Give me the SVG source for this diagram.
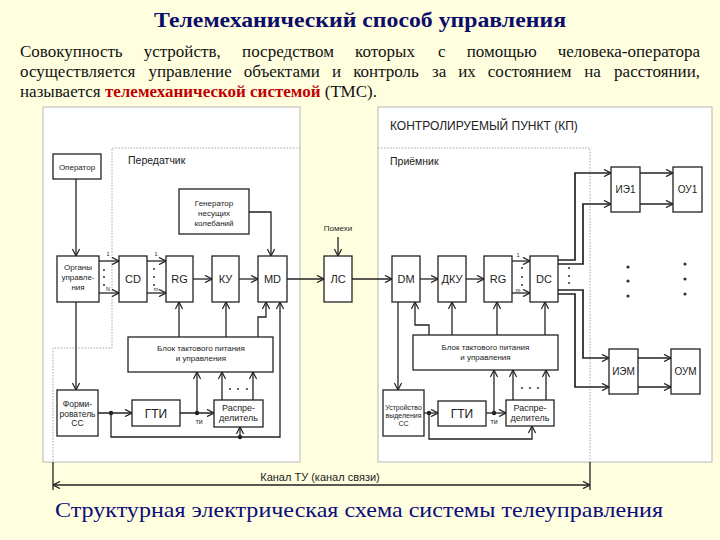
<svg xmlns="http://www.w3.org/2000/svg" width="720" height="540" viewBox="0 0 720 540">
<style>
.box{fill:#fff;stroke:#222;stroke-width:1.3}
.lbl{font-family:"Liberation Sans",Arial,sans-serif;fill:#222;text-anchor:middle}
.ln{fill:none;stroke:#222;stroke-width:1.3}
.thick{stroke-width:1.7}
.arr{marker-end:url(#ah)}
.dash{fill:none;stroke:#a8a8a8;stroke-width:1;stroke-dasharray:1.5 1.5}
.jd{fill:#222}
.sm{fill:#333}
.serif{font-family:"Liberation Serif","Times New Roman","DejaVu Serif","Noto Serif",serif}
.para{font-size:17px;fill:#111}
.panel{fill:#fff;stroke:#c4c4c4;stroke-width:1.2}
</style>
<defs>
<marker id="ah" viewBox="0 0 8 8" refX="7.6" refY="4" markerWidth="8" markerHeight="8" markerUnits="userSpaceOnUse" orient="auto-start-reverse">
<path d="M0.6,0.4 L7.6,4 L0.6,7.6" fill="none" stroke="#222" stroke-width="1.2"/>
</marker>
</defs>
<rect x="0" y="0" width="720" height="540" fill="#FFFFE0"/>

<g id="header">
<text class="serif" x="360" y="27" text-anchor="middle" font-weight="bold" font-size="22" fill="#0c0c6a" textLength="412" lengthAdjust="spacingAndGlyphs">Телемеханический способ управления</text>
<text class="serif para" y="57"><tspan x="20">Совокупность</tspan><tspan x="143.7">устройств,</tspan><tspan x="242.1">посредством</tspan><tspan x="355.1">которых</tspan><tspan x="438">с</tspan><tspan x="466.7">помощью</tspan></text>
<text class="serif para" y="57" x="700" text-anchor="end">человека-оператора</text>
<text class="serif para" y="77"><tspan x="20">осуществляется</tspan><tspan x="148.5">управление</tspan><tspan x="243.7">объектами</tspan><tspan x="332.1">и</tspan><tspan x="353.2">контроль</tspan><tspan x="432">за</tspan><tspan x="458.2">их</tspan><tspan x="487.8">состоянием</tspan><tspan x="584.2">на</tspan></text>
<text class="serif para" y="77" x="700" text-anchor="end">расстоянии,</text>
<text class="serif para" y="97" x="20">называется <tspan font-weight="bold" fill="#c00000">телемеханической системой</tspan> (ТМС).</text>
</g>

<g id="panels">
<rect class="panel" x="43" y="107" width="257" height="355"/>
<rect class="panel" x="378" y="107" width="334" height="355"/>
<path class="dash" d="M300,148 H112 V348 H53 V462"/>
<path class="dash" d="M378,148 H590 V462"/>
<text class="lbl" x="390" y="130" font-size="12" style="text-anchor:start">КОНТРОЛИРУЕМЫЙ ПУНКТ (КП)</text>
<text class="lbl" x="128" y="164" font-size="10.5" style="text-anchor:start">Передатчик</text>
<text class="lbl" x="390" y="165" font-size="10.5" style="text-anchor:start">Приёмник</text>
</g>

<g id="connectors">
<path class="ln arr" d="M76,179 V256"/>
<path class="ln arr" d="M99,261 H119"/>
<path class="ln arr" d="M99,293 H119"/>
<path class="ln arr" d="M147,261 H166"/>
<path class="ln arr" d="M147,293 H166"/>
<path class="ln arr" d="M193,279 H212"/>
<path class="ln arr" d="M239,279 H258"/>
<path class="ln arr" d="M249,212 H271 V256"/>
<path class="ln arr" d="M287,279 H324"/>
<path class="ln arr" d="M338,237 V256"/>
<path class="ln arr" d="M352,279 H392"/>
<path class="ln arr" d="M76,302 V390"/>
<path class="ln arr" d="M179,337 V302"/>
<path class="ln arr" d="M226,337 V302"/>
<path class="ln arr" d="M258,337 V317 H266 V302"/>
<path class="ln arr" d="M111,413 V437 H280 V302"/>
<path class="ln arr" d="M240,437 V427"/>
<path class="ln arr" d="M98,413 H132"/>
<path class="ln arr" d="M180,413 H214"/>
<path class="ln arr" d="M197,413 V372"/>
<path class="ln arr" d="M222,400 V372"/>
<path class="ln arr" d="M253,400 V372"/>

<path class="ln arr" d="M420,279 H438"/>
<path class="ln arr" d="M466,279 H484"/>
<path class="ln arr" d="M512,261 H530"/>
<path class="ln arr" d="M512,293 H530"/>
<path class="ln thick arr" d="M558,260 H575 V173 H611"/>
<path class="ln thick arr" d="M558,264 H583 V204 H611"/>
<path class="ln thick arr" d="M558,290 H583 V358 H609"/>
<path class="ln thick arr" d="M558,294 H575 V387 H609"/>
<path class="ln arr" d="M640,173 H673"/>
<path class="ln arr" d="M640,204 H673"/>
<path class="ln arr" d="M638,358 H671"/>
<path class="ln arr" d="M638,387 H671"/>
<path class="ln arr" d="M398,302 V390"/>
<path class="ln arr" d="M429,335 V325 H415 V302"/>
<path class="ln arr" d="M452,335 V302"/>
<path class="ln arr" d="M497,335 V302"/>
<path class="ln arr" d="M545,335 V302"/>
<path class="ln arr" d="M424,413 H438"/>
<path class="ln arr" d="M429,413 V439 H532 V426"/>
<path class="ln arr" d="M486,413 H506"/>
<path class="ln arr" d="M494,413 V370"/>
<path class="ln arr" d="M513,400 V370"/>
<path class="ln arr" d="M546,400 V370"/>

<path class="ln" d="M53,462 V490 M590,462 V490"/>
<path class="ln" d="M53,485 H590" marker-start="url(#ah)" marker-end="url(#ah)"/>

<circle class="jd" cx="111" cy="413" r="2.2"/>
<circle class="jd" cx="197" cy="413" r="2.2"/>
<circle class="jd" cx="240" cy="437" r="2.2"/>
<circle class="jd" cx="429" cy="413" r="2.2"/>
<circle class="jd" cx="494" cy="413" r="2.2"/>

<g class="sm">
<circle cx="104" cy="270" r="1"/><circle cx="104" cy="277" r="1"/><circle cx="104" cy="285" r="1"/>
<circle cx="154" cy="269" r="1"/><circle cx="154" cy="277" r="1"/><circle cx="154" cy="285" r="1"/>
<circle cx="522" cy="268" r="1"/><circle cx="522" cy="277" r="1"/><circle cx="522" cy="285" r="1"/>
<circle cx="569" cy="268" r="1"/><circle cx="569" cy="276" r="1"/><circle cx="569" cy="283" r="1"/>
<circle cx="230" cy="389" r="1"/><circle cx="238" cy="389" r="1"/><circle cx="247" cy="389" r="1"/>
<circle cx="522" cy="388" r="1"/><circle cx="530" cy="388" r="1"/><circle cx="538" cy="388" r="1"/>
<circle cx="628" cy="267" r="1.6"/><circle cx="628" cy="281" r="1.6"/><circle cx="628" cy="296" r="1.6"/>
<circle cx="685" cy="264" r="1.6"/><circle cx="685" cy="279" r="1.6"/><circle cx="685" cy="294" r="1.6"/>
</g>
<g class="lbl" font-size="5.5">
<text x="108" y="256">1</text><text x="108" y="291">N</text>
<text x="156" y="256">1</text><text x="156" y="291">m</text>
<text x="518" y="257">1</text><text x="518" y="292">m</text>
<text x="199" y="424" font-size="7">ти</text>
<text x="494" y="424" font-size="7">ти</text>
</g>
<text class="lbl" x="338" y="231" font-size="8">Помехи</text>
<text class="lbl" x="320" y="481" font-size="11">Канал ТУ (канал связи)</text>
</g>

<g id="n-operator"><rect class="box" x="53" y="154" width="48" height="25"/><text class="lbl" x="77" y="169.5" font-size="8">Оператор</text></g>
<g id="n-organy"><rect class="box" x="57" y="256" width="42" height="46"/><text class="lbl" x="78" y="270" font-size="8">Органы</text><text class="lbl" x="78" y="280" font-size="8">управле-</text><text class="lbl" x="78" y="290" font-size="8">ния</text></g>
<g id="n-cd"><rect class="box" x="119" y="256" width="28" height="46"/><text class="lbl" x="133" y="283" font-size="11">CD</text></g>
<g id="n-rg1"><rect class="box" x="166" y="256" width="27" height="46"/><text class="lbl" x="179.5" y="283" font-size="11">RG</text></g>
<g id="n-ku"><rect class="box" x="212" y="256" width="27" height="46"/><text class="lbl" x="225.5" y="283" font-size="11">КУ</text></g>
<g id="n-md"><rect class="box" x="258" y="256" width="29" height="46"/><text class="lbl" x="272.5" y="283" font-size="11">MD</text></g>
<g id="n-gen"><rect class="box" x="179" y="189" width="70" height="45"/><text class="lbl" x="214" y="206" font-size="8">Генератор</text><text class="lbl" x="214" y="216" font-size="8">несущих</text><text class="lbl" x="214" y="226" font-size="8">колебаний</text></g>
<g id="n-ls"><rect class="box" x="324" y="256" width="28" height="46"/><text class="lbl" x="338" y="283" font-size="11">ЛС</text></g>
<g id="n-blok1"><rect class="box" x="128" y="337" width="145" height="35"/><text class="lbl" x="201" y="351" font-size="8">Блок тактового питания</text><text class="lbl" x="201" y="361" font-size="8">и управления</text></g>
<g id="n-form"><rect class="box" x="57" y="390" width="41" height="46"/><text class="lbl" x="77.5" y="407" font-size="8.5">Форми-</text><text class="lbl" x="77.5" y="416.5" font-size="8.5">рователь</text><text class="lbl" x="77.5" y="426" font-size="8.5">СС</text></g>
<g id="n-gti1"><rect class="box" x="132" y="400" width="48" height="26"/><text class="lbl" x="156" y="417.5" font-size="12">ГТИ</text></g>
<g id="n-raspr1"><rect class="box" x="214" y="400" width="49" height="27"/><text class="lbl" x="238.5" y="410.5" font-size="9">Распре-</text><text class="lbl" x="238.5" y="420.5" font-size="9">делитель</text></g>

<g id="n-dm"><rect class="box" x="392" y="256" width="28" height="46"/><text class="lbl" x="406" y="283" font-size="11">DM</text></g>
<g id="n-dku"><rect class="box" x="438" y="256" width="28" height="46"/><text class="lbl" x="452" y="283" font-size="11">ДКУ</text></g>
<g id="n-rg2"><rect class="box" x="484" y="256" width="28" height="46"/><text class="lbl" x="498" y="283" font-size="11">RG</text></g>
<g id="n-dc"><rect class="box" x="530" y="256" width="28" height="46"/><text class="lbl" x="544" y="283" font-size="11">DC</text></g>
<g id="n-ie1"><rect class="box" x="611" y="167" width="29" height="45"/><text class="lbl" x="625.5" y="193" font-size="10">ИЭ1</text></g>
<g id="n-ou1"><rect class="box" x="673" y="167" width="29" height="45"/><text class="lbl" x="687.5" y="193" font-size="10">ОУ1</text></g>
<g id="n-iem"><rect class="box" x="609" y="349" width="29" height="45"/><text class="lbl" x="623.5" y="375" font-size="10">ИЭМ</text></g>
<g id="n-oum"><rect class="box" x="671" y="349" width="29" height="45"/><text class="lbl" x="685.5" y="375" font-size="10">ОУМ</text></g>
<g id="n-blok2"><rect class="box" x="413" y="335" width="145" height="35"/><text class="lbl" x="485.5" y="350" font-size="8">Блок тактового питания</text><text class="lbl" x="485.5" y="360" font-size="8">и управления</text></g>
<g id="n-ustr"><rect class="box" x="383" y="390" width="41" height="46"/><text class="lbl" x="403.5" y="409.5" font-size="7">Устройство</text><text class="lbl" x="403.5" y="417.5" font-size="7">выделения</text><text class="lbl" x="403.5" y="425.5" font-size="7">СС</text></g>
<g id="n-gti2"><rect class="box" x="438" y="401" width="48" height="25"/><text class="lbl" x="462" y="417.5" font-size="12">ГТИ</text></g>
<g id="n-raspr2"><rect class="box" x="506" y="400" width="48" height="26"/><text class="lbl" x="530" y="410.5" font-size="9">Распре-</text><text class="lbl" x="530" y="420.5" font-size="9">делитель</text></g>

<g id="caption">
<text class="serif" x="359" y="517" text-anchor="middle" font-size="22" fill="#0c0c7a" textLength="608" lengthAdjust="spacingAndGlyphs">Структурная электрическая схема системы телеуправления</text>
</g>
</svg>
